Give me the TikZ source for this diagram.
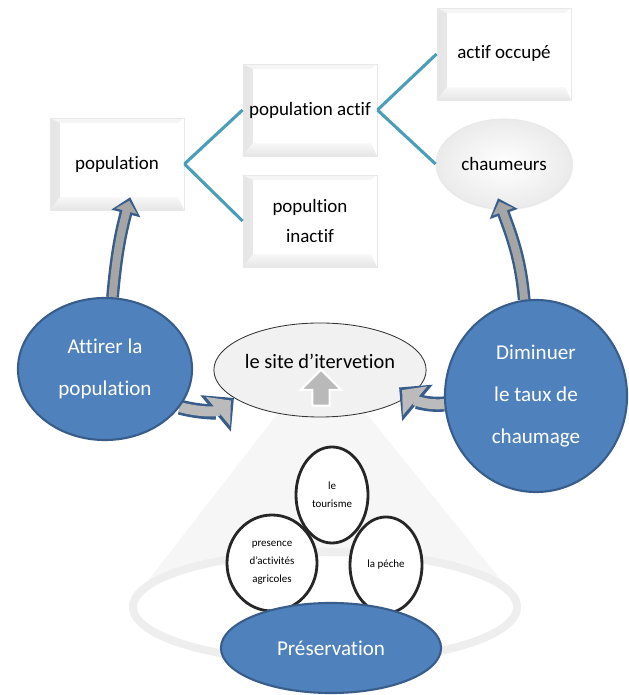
\documentclass[tikz,border=0pt]{standalone}
\usepackage{fontspec}
\setmainfont{Carlito}[Ligatures={TeX,NoCommon}]
\usepackage{xcolor}
\definecolor{bluefill}{HTML}{4F81BD}
\definecolor{blueedge}{HTML}{385D8A}
\definecolor{tealline}{HTML}{4A9FB6}
\definecolor{arrgray}{HTML}{A5A5A5}
\usepackage{tikz}
\usetikzlibrary{shapes.geometric,shapes.arrows,arrows.meta,shadows}
\pgfdeclarelayer{back}
\pgfdeclarelayer{under}
\pgfdeclarelayer{mid}
\pgfsetlayers{back,under,mid,main}

\begin{document}
\begin{tikzpicture}[x=0.025cm, y=0.025cm,
      box/.style={draw=gray!18, line width=0.6pt, fill=white, drop shadow={shadow xshift=0.8pt, shadow yshift=-0.8pt, opacity=0.15}, minimum width=3.35cm, minimum height=2.3cm, inner sep=0pt, align=center, font=\fontsize{13.5}{21}\selectfont, bevel},
      bevel/.style={path picture={
        \shade[left color=gray!20, right color=white] (path picture bounding box.north west) -- ([xshift=0.25cm, yshift=-0.12cm]path picture bounding box.north west) -- ([xshift=0.25cm, yshift=0.32cm]path picture bounding box.south west) -- (path picture bounding box.south west) -- cycle;
        \shade[top color=gray!6, bottom color=gray!20] ([xshift=0.25cm, yshift=0.32cm]path picture bounding box.south west) -- ([xshift=-0.15cm, yshift=0.32cm]path picture bounding box.south east) -- (path picture bounding box.south east) -- (path picture bounding box.south west) -- cycle;
        \fill[gray!8] (path picture bounding box.north west) -- (path picture bounding box.north east) -- ([xshift=-0.15cm, yshift=-0.12cm]path picture bounding box.north east) -- ([xshift=0.25cm, yshift=-0.12cm]path picture bounding box.north west) -- cycle;}},
      oval/.style={ellipse, draw=gray!18, line width=0.6pt, inner color=white, outer color=gray!16, drop shadow={shadow xshift=0.8pt, shadow yshift=-0.8pt, opacity=0.15}, inner sep=0pt, font=\fontsize{13.5}{21}\selectfont},
      bigcirc/.style={ellipse, draw=blueedge, line width=1.5pt, fill=bluefill, text=white, align=center, inner sep=0pt, font=\fontsize{15}{30}\selectfont},
      small/.style={ellipse, draw=black!85, line width=2pt, fill=white, align=center, inner sep=0pt, minimum width=1.8cm, minimum height=2.4cm, font=\fontsize{7.8}{12.8}\selectfont},
      link/.style={draw=tealline, line width=2.2pt},
      upbarr/.style={draw=blueedge, line width=0.32cm, -{Triangle[length=0.42cm,width=0.72cm]}, postaction={draw=arrgray, line width=0.2cm, shorten >=0.09cm, -{Triangle[length=0.27cm,width=0.53cm]}}},
      sidebarr/.style={draw=blueedge, line width=0.38cm, -{Triangle[length=0.6cm,width=1.15cm]}, postaction={draw=arrgray!75, line width=0.25cm, shorten >=0.1cm, -{Triangle[length=0.42cm,width=0.92cm]}}}
    ]
    \useasboundingbox (0,0) rectangle (629,695);
    \begin{pgfonlayer}{back}
      \fill[gray!7] (278,282) -- (366,282) -- (517,95) -- (133,95) -- cycle;
      \draw[gray!13, line width=0.2cm, fill=white] (325,88) ellipse [x radius=4.8cm, y radius=1.375cm];
    \end{pgfonlayer}
    \begin{pgfonlayer}{under}
      \node[box] (population) at (117,531) {population};
      \node[box] (popactif) at (310,585) {population actif};
      \node[box] (popinactif) at (310,474) {popultion\\inactif};
      \node[box] (occupe) at (504,641) {actif occupé};
      \node[oval, minimum width=3.4cm, minimum height=2.25cm] (chaumeurs) at (504,531) {chaumeurs};
      \draw[link] (population.east) -- (popactif.west); \draw[link] (population.east) -- (popinactif.west);
      \draw[link] (popactif.east) -- (occupe.west); \draw[link] (popactif.east) -- (chaumeurs.west);
      \node[ellipse, draw=black!80, line width=0.6pt, fill=gray!11, minimum width=5.05cm, minimum height=2.35cm, inner sep=0pt, font=\fontsize{14.5}{18}\selectfont] (site) at (320,325) {\raisebox{0.45cm}{le site d'itervetion}};
      \node[single arrow, shape border rotate=90, fill=gray!55, draw=white, line width=1.5pt, inner sep=0.19cm, single arrow head extend=0.29cm, minimum height=0.9cm] (siteup) at (321,303) {};
    \end{pgfonlayer}
    \node[bigcirc, minimum width=4.35cm, minimum height=3.55cm] (attirer) at (105,326) {Attirer la\\population};
    \node[bigcirc, minimum width=4.55cm, minimum height=4.8cm] (diminuer) at (536,299) {Diminuer\\le taux de\\chaumage};
    \begin{pgfonlayer}{mid}
      \draw[upbarr] (attirer.84) to[out=85, in=-105] ([xshift=0.33cm, yshift=0.33cm]population.south);
      \draw[upbarr] (diminuer.97) to[out=95, in=-70] ([xshift=-0.15cm, yshift=0.28cm]chaumeurs.south);
      \draw[sidebarr] (attirer.-27) to[out=-15, in=220] (site.198);
      \draw[sidebarr] (diminuer.185) to[out=185, in=-40] ([xshift=-0.5cm]site.-10);
    \end{pgfonlayer}
    \node[small] (tourisme) at (332,200) {le\\tourisme};
    \node[small, minimum width=2.25cm] (agricoles) at (272,132) {presence\\d'activités\\agricoles};
    \node[small] (peche) at (386,130) {la péche};
    \node[bigcirc, minimum width=5.5cm, minimum height=2.25cm] (preservation) at (331,47) {Préservation};
  \end{tikzpicture}
\end{document}
